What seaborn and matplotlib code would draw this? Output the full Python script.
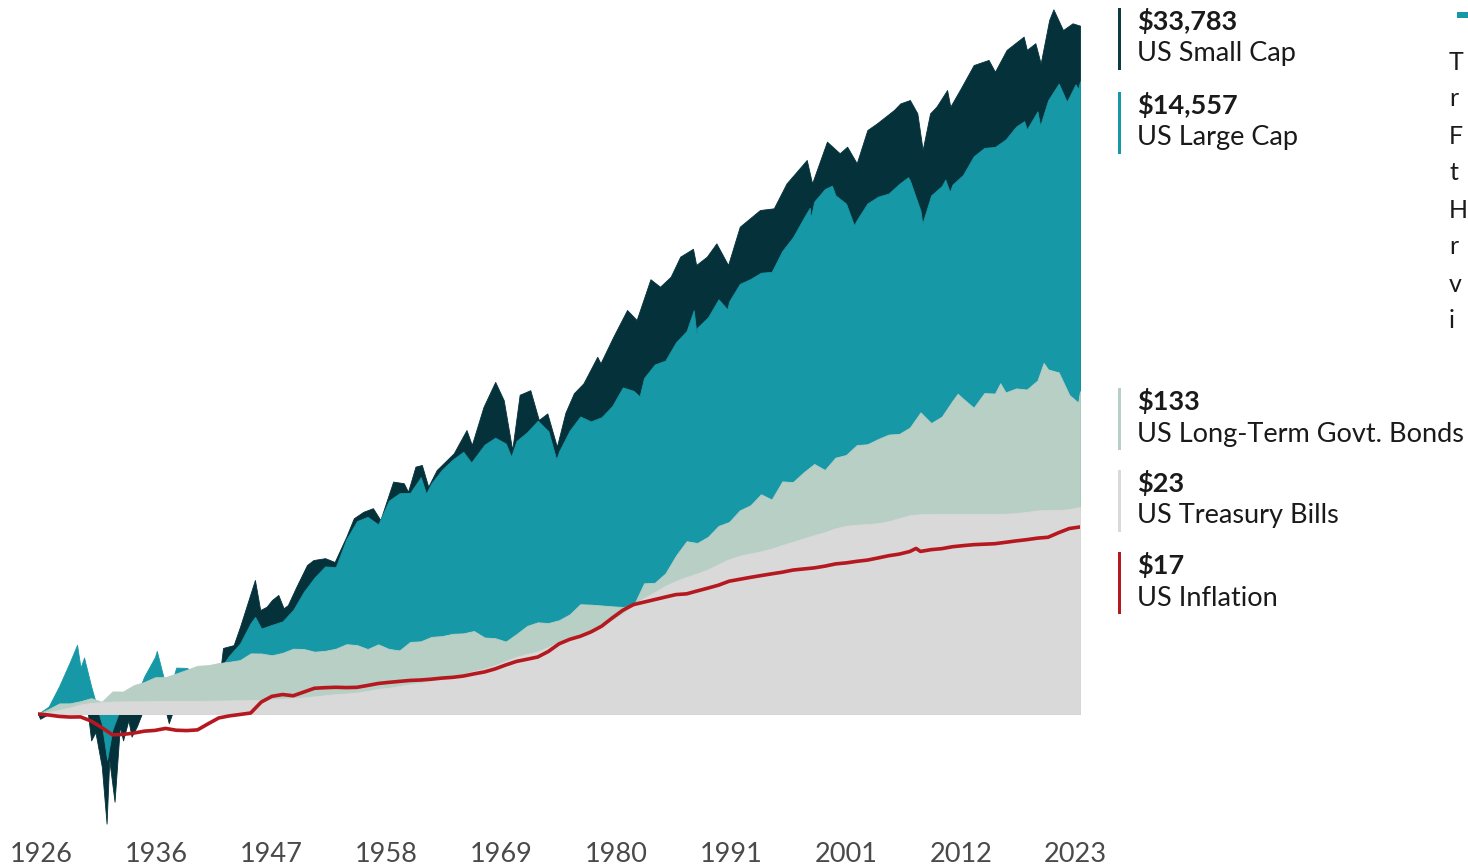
import numpy as np
import pandas as pd
import matplotlib
matplotlib.use("Agg")
import matplotlib.pyplot as plt
import seaborn as sns
from matplotlib.patches import Rectangle

# ---------------- data ----------------
years = list(range(1926, 2024))

large_cap = [1.12, 1.53, 2.20, 2.02, 1.52, 0.86, 0.79, 1.21, 1.20, 1.77,
             2.37, 1.54, 2.02, 2.01, 1.81, 1.60, 1.93, 2.43, 2.91, 3.97,
             3.65, 3.86, 4.07, 4.84, 6.37, 7.90, 9.35, 9.26, 14.13, 18.59,
             19.81, 17.67, 25.33, 28.36, 28.50, 36.16, 33.01, 40.53, 47.21, 53.08,
             47.74, 59.19, 65.74, 60.15, 62.54, 71.48, 85.05, 72.56, 53.36, 73.21,
             90.66, 84.15, 89.66, 106.16, 140.79, 133.86, 162.63, 199.18, 211.63, 279.02,
             330.92, 348.32, 406.32, 534.58, 517.87, 675.53, 727.27, 800.32, 810.95, 1113.85,
             1370.03, 1826.98, 2348.68, 2843.63, 2584.56, 2277.65, 1774.33, 2283.35, 2531.82, 2656.18,
             3075.76, 3244.73, 2044.24, 2585.24, 2974.63, 3037.60, 3523.80, 4665.26, 5303.61, 5376.93,
             6019.93, 7334.23, 7012.72, 9221.99, 10918.77, 14052.78, 11507.70, 14557.0]
large_cap_intra_t = [1929.67, 1930.33, 1932.5, 1937.17, 1938.25, 1942.33, 1946.42, 1962.5,
                     1966.75, 1970.5, 1974.75, 1982.58, 1987.67, 1987.92, 1990.83, 1998.58,
                     1998.67, 2000.67, 2002.75, 2007.83, 2009.17, 2011.33, 2011.75, 2018.75,
                     2020.25, 2022.75, 2023.58, 2023.83]
large_cap_intra_v = [2.85, 2.35, 0.50, 2.60, 1.35, 1.45, 4.35, 28.2,
                     45.1, 49.3, 47.2, 123.0, 453.0, 320.0, 460.0, 2140.0,
                     1830.0, 2990.0, 1640.0, 3400.0, 1680.0, 3280.0, 2716.0, 7950.0,
                     7414.0, 10690.0, 13880.0, 12900.0]

small_cap_t = [1926.2, 1927.0, 1928.0, 1929.0, 1929.67, 1930.0, 1930.3, 1930.7, 1931.0, 1931.4,
               1932.0, 1932.45, 1932.7, 1933.2, 1933.7, 1934.0, 1934.5, 1934.8, 1935.3, 1935.75,
               1936.5, 1937.15, 1938.0, 1938.3, 1939.0, 1939.7, 1941.0, 1942.0, 1942.3, 1943.0,
               1943.4, 1944.4, 1945.0, 1946.0, 1946.4, 1946.9, 1947.5, 1948.0, 1948.6, 1949.1,
               1949.5, 1950.3, 1951.3, 1951.9, 1953.0, 1953.9, 1955.0, 1955.7, 1956.6, 1957.5,
               1958.2, 1959.4, 1960.4, 1960.8, 1961.5, 1962.1, 1962.7, 1963.5, 1965.1, 1966.3,
               1966.8, 1967.9, 1969.0, 1969.8, 1970.6, 1971.3, 1972.3, 1973.1, 1973.9, 1974.8,
               1975.6, 1976.4, 1977.3, 1978.6, 1978.9, 1980.1, 1981.4, 1982.3, 1983.6, 1984.5,
               1985.5, 1986.4, 1987.6, 1987.9, 1988.9, 1989.8, 1990.9, 1992.0, 1993.9, 1995.2,
               1996.4, 1998.3, 1998.8, 2000.2, 2001.4, 2002.1, 2003.0, 2004.0, 2004.9, 2006.5,
               2007.1, 2008.0, 2008.7, 2009.2, 2009.9, 2010.5, 2011.5, 2011.8, 2012.7, 2014.0,
               2015.4, 2016.0, 2017.1, 2018.7, 2019.0, 2019.8, 2020.3, 2021.1, 2021.5, 2022.4,
               2023.3, 2024.0]
small_cap_v = [0.93, 1.0, 1.3, 1.75, 1.9, 1.15, 1.35, 1.0, 0.67, 0.76,
               0.45, 0.19, 0.50, 0.265, 0.83, 0.67, 0.91, 0.71, 0.83, 1.0,
               1.6, 1.9, 1.05, 0.87, 1.2, 1.4, 1.2, 1.05, 1.1, 1.6,
               2.72, 2.84, 3.75, 6.22, 7.62, 4.83, 5.08, 5.62, 6.07, 4.96,
               5.21, 6.88, 9.56, 10.3, 10.6, 10.0, 14.7, 19.4, 21.4, 22.6,
               18.9, 33.8, 33.0, 29.0, 42.4, 43.5, 31.3, 40.3, 51.9, 73.8,
               58.9, 105.0, 153.0, 116.0, 54.6, 126.0, 135.0, 86.0, 95.0, 57.4,
               96.0, 129.0, 150.0, 224.0, 203.0, 303.0, 455.0, 391.0, 725.0, 647.0,
               753.0, 1021.0, 1150.0, 900.0, 1020.0, 1248.0, 899.0, 1607.0, 2069.0, 2123.0,
               3096.0, 4415.0, 3096.0, 5828.0, 4886.0, 5400.0, 4200.0, 6950.0, 7690.0, 9410.0,
               10400.0, 10950.0, 8950.0, 5140.0, 8950.0, 9900.0, 12740.0, 9900.0, 12740.0, 18600.0,
               20100.0, 16800.0, 23400.0, 28600.0, 23400.0, 25900.0, 19050.0, 36800.0, 43250.0, 31600.0,
               35000.0, 33783.0]

bonds = [1.078, 1.174, 1.175, 1.215, 1.272, 1.204, 1.407, 1.406, 1.547, 1.624,
         1.746, 1.750, 1.847, 1.957, 2.076, 2.095, 2.164, 2.207, 2.264, 2.505,
         2.501, 2.434, 2.526, 2.689, 2.676, 2.571, 2.603, 2.688, 2.880, 2.842,
         2.675, 2.874, 2.680, 2.620, 2.981, 3.008, 3.217, 3.255, 3.370, 3.394,
         3.516, 3.187, 3.154, 2.997, 3.356, 3.799, 4.010, 3.967, 4.140, 4.522,
         5.277, 5.242, 5.178, 5.113, 5.061, 5.156, 7.245, 7.295, 8.411, 11.013,
         13.708, 13.335, 14.620, 17.269, 18.334, 21.861, 23.600, 27.904, 25.764, 33.922,
         33.539, 38.871, 44.169, 40.348, 48.596, 50.582, 58.752, 59.543, 64.336, 68.908,
         69.592, 76.701, 96.5, 82.1, 90.4, 114.9, 118.8, 103.6, 129.2, 128.3,
         130.6, 138.7, 136.4, 156.6, 184.9, 176.7, 125.5, 133.0]
bonds_intra_t = [2012.5, 2016.5, 2020.58, 2023.83]
bonds_intra_v = [128.0, 150.0, 204.0, 112.0]

tbills = [1.033, 1.065, 1.103, 1.155, 1.183, 1.196, 1.207, 1.210, 1.212, 1.214,
          1.216, 1.221, 1.221, 1.221, 1.221, 1.222, 1.225, 1.229, 1.233, 1.237,
          1.242, 1.248, 1.258, 1.272, 1.287, 1.306, 1.328, 1.352, 1.364, 1.385,
          1.419, 1.464, 1.486, 1.530, 1.571, 1.604, 1.648, 1.700, 1.760, 1.829,
          1.916, 1.993, 2.097, 2.232, 2.378, 2.482, 2.582, 2.761, 2.981, 3.150,
          3.308, 3.482, 3.729, 4.117, 4.574, 5.239, 5.817, 6.345, 6.972, 7.513,
          7.979, 8.409, 8.940, 9.685, 10.429, 11.012, 11.398, 11.745, 12.251, 12.948,
          13.609, 14.313, 15.020, 15.728, 16.660, 17.309, 17.585, 17.764, 17.999, 18.543,
          19.423, 20.317, 20.637, 20.658, 20.682, 20.694, 20.709, 20.718, 20.724, 20.730,
          20.791, 20.979, 21.374, 21.859, 21.958, 21.968, 22.289, 23.0]

inflation = [0.985, 0.964, 0.955, 0.957, 0.899, 0.814, 0.730, 0.734, 0.749, 0.771,
             0.780, 0.804, 0.782, 0.778, 0.786, 0.862, 0.942, 0.972, 0.993, 1.015,
             1.199, 1.307, 1.343, 1.318, 1.395, 1.477, 1.490, 1.499, 1.492, 1.498,
             1.541, 1.588, 1.615, 1.639, 1.663, 1.674, 1.695, 1.723, 1.743, 1.777,
             1.836, 1.892, 1.981, 2.102, 2.218, 2.292, 2.371, 2.579, 2.894, 3.097,
             3.246, 3.466, 3.778, 4.281, 4.812, 5.243, 5.448, 5.659, 5.881, 6.104,
             6.172, 6.449, 6.731, 7.039, 7.474, 7.697, 7.923, 8.142, 8.358, 8.570,
             8.850, 9.000, 9.145, 9.389, 9.712, 9.865, 10.101, 10.291, 10.630, 10.995,
             11.270, 11.727, 11.737, 12.058, 12.237, 12.600, 12.813, 13.004, 13.098, 13.194,
             13.475, 13.767, 14.030, 14.355, 14.547, 15.603, 16.609, 17.0]
inflation_intra_t = [2008.58]
inflation_intra_v = [12.28]

tick_labels = ["1926", "1936", "1947", "1958", "1969", "1980", "1991", "2001", "2012", "2023"]

legend_values = ["$33,783", "$14,557", "$133", "$23", "$17"]
legend_names = ["US Small Cap", "US Large Cap", "US Long-Term Govt. Bonds",
                "US Treasury Bills", "US Inflation"]
side_text = ["T", "r", "F", "t", "H", "r", "v", "i"]

# ---------------- style ----------------
C_SMALL = "#05313a"
C_LARGE = "#1698a6"
C_BOND = "#b7cfc5"
C_TBILL = "#d9d9d9"
C_INFL = "#b5181f"

sns.set_theme(style="white")
plt.rcParams["font.family"] = ["Lato", "DejaVu Sans"]

W, H = 1468, 866
fig = plt.figure(figsize=(W / 100, H / 100), dpi=100)


def fx(px):
    return px / W


def fy(py):
    return 1 - py / H


AX_L, AX_R, AX_T, AX_B = 38, 1080, 0, 830
Y0, K = 714, 152  # pixel of $1 and pixels per decade
ax = fig.add_axes([fx(AX_L), fy(AX_B), fx(AX_R) - fx(AX_L), fy(AX_T) - fy(AX_B)])
ax.set_yscale("log")
ax.set_xlim(1926, 2024)
ax.set_ylim(10 ** (-(AX_B - Y0) / K), 10 ** ((Y0 - AX_T) / K))


def series(values, extra_t=(), extra_v=()):
    t = np.concatenate([[1926.0], np.array(years, float) + 1.0, np.array(extra_t, float)])
    v = np.concatenate([[1.0], np.array(values, float), np.array(extra_v, float)])
    o = np.argsort(t, kind="stable")
    return t[o], v[o]


t_s = np.concatenate([[1926.0], small_cap_t])
v_s = np.concatenate([[1.0], small_cap_v])
t_l, v_l = series(large_cap, large_cap_intra_t, large_cap_intra_v)
t_b, v_b = series(bonds, bonds_intra_t, bonds_intra_v)
t_t, v_t = series(tbills)
t_i, v_i = series(inflation, inflation_intra_t, inflation_intra_v)

for t, v, c in [(t_s, v_s, C_SMALL), (t_l, v_l, C_LARGE), (t_b, v_b, C_BOND), (t_t, v_t, C_TBILL)]:
    ax.fill_between(t, 1.0, v, color=c, lw=0.6, edgecolor=c)

df_inf = pd.DataFrame({"year": t_i, "value": v_i})
sns.lineplot(data=df_inf, x="year", y="value", ax=ax, color=C_INFL, lw=2.6, sort=False)

for s in ax.spines.values():
    s.set_visible(False)
ax.set_xlabel("")
ax.set_ylabel("")
ax.set_yticks([])
ax.minorticks_off()
ax.yaxis.set_minor_locator(matplotlib.ticker.NullLocator())
ax.set_xticks(np.linspace(1926.3, 2023.6, len(tick_labels)))
ax.set_xticklabels(tick_labels, fontsize=19.5, color="#4a4a4a")
ax.tick_params(axis="x", length=0, pad=9)
ax.set_facecolor("none")

# ---------------- legend ----------------
bar_colors = ["#0d3b44", C_LARGE, C_BOND, C_TBILL, C_INFL]
bar_tops = [8, 92, 388, 470, 552]
for val, name, col, top in zip(legend_values, legend_names, bar_colors, bar_tops):
    fig.patches.append(Rectangle((fx(1118), fy(top + 62)), fx(3), 62 / H,
                                 transform=fig.transFigure, color=col, lw=0))
    fig.text(fx(1137), fy(top + 13), val, fontsize=19.5, fontweight="bold",
             color="#1a1a1a", va="center", ha="left")
    fig.text(fx(1137), fy(top + 46), name, fontsize=19.5, color="#1a1a1a",
             va="center", ha="left")

fig.patches.append(Rectangle((fx(1457), fy(18)), fx(12), 6 / H,
                             transform=fig.transFigure, color=C_LARGE, lw=0))
for i, wtxt in enumerate(side_text):
    fig.text(fx(1449), fy(62 + i * 37), wtxt, fontsize=18, color="#1a1a1a",
             va="center", ha="left")

fig.savefig("out.png", dpi=100)
